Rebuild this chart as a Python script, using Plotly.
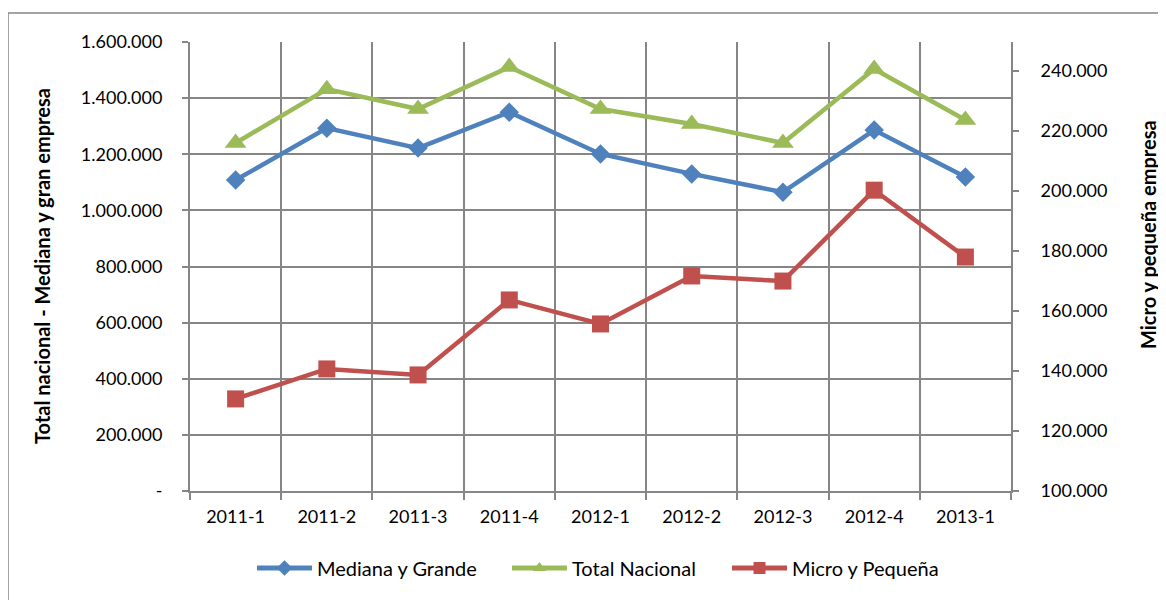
import plotly.graph_objects as go

categories = ["2011-1", "2011-2", "2011-3", "2011-4", "2012-1", "2012-2", "2012-3", "2012-4", "2013-1"]
mediana_grande = [1108000, 1293000, 1222000, 1350000, 1201000, 1130000, 1065000, 1286000, 1119000]
total_nacional = [1240000, 1432000, 1361000, 1511000, 1361000, 1308000, 1240000, 1504000, 1322000]
micro_pequena = [130700, 140700, 138700, 163700, 155700, 171700, 170000, 200300, 178000]

left_tickvals = [0, 200000, 400000, 600000, 800000, 1000000, 1200000, 1400000, 1600000]
left_ticktext = ["-", "200.000", "400.000", "600.000", "800.000", "1.000.000", "1.200.000", "1.400.000", "1.600.000"]
right_tickvals = [100000, 120000, 140000, 160000, 180000, 200000, 220000, 240000]
right_ticktext = ["100.000", "120.000", "140.000", "160.000", "180.000", "200.000", "220.000", "240.000"]

FONT = "Lato"
GRID = "#868686"
BLUE = "#4F81BD"
GREEN = "#9BBB59"
RED = "#C0504D"

# page body has an 8px margin; work in page pixels and offset
OFF = 8
W, H = 1166 - OFF, 600 - OFF
L, R, T, B = 190 - OFF, 1011 - OFF, 42 - OFF, 491 - OFF
pw, ph = R - L, B - T


def px_x(x):
    return (x - OFF - L) / pw


def px_y(y):
    return (B - (y - OFF)) / ph


fig = go.Figure()
fig.add_trace(go.Scatter(x=categories, y=mediana_grande, name="Mediana y Grande", mode="lines+markers",
                         legend="legend",
                         line=dict(color=BLUE, width=4.5), marker=dict(symbol="diamond", size=15, color=BLUE)))
fig.add_trace(go.Scatter(x=categories, y=total_nacional, name="Total Nacional", mode="lines+markers",
                         legend="legend2",
                         line=dict(color=GREEN, width=4.5), marker=dict(symbol="triangle-up", size=19, color=GREEN)))
fig.add_trace(go.Scatter(x=categories, y=micro_pequena, name="Micro y Pequeña", mode="lines+markers", yaxis="y2",
                         legend="legend3",
                         line=dict(color=RED, width=4.5), marker=dict(symbol="square", size=17, color=RED)))

leg_common = dict(orientation="h", xanchor="left", y=px_y(568), yanchor="middle",
                  font=dict(family=FONT, size=20, color="#000000"), itemwidth=55, itemsizing="constant",
                  bgcolor="rgba(0,0,0,0)")

fig.update_layout(
    width=W, height=H,
    margin=dict(l=L, r=W - R, t=T, b=H - B),
    paper_bgcolor="white", plot_bgcolor="white",
    font=dict(family=FONT, size=18, color="#000000"),
    showlegend=True,
    legend=dict(x=px_x(257 - 5), **leg_common),
    legend2=dict(x=px_x(512 - 5), **leg_common),
    legend3=dict(x=px_x(732 - 5), **leg_common),
    xaxis=dict(type="category", range=[-0.5, 8.5], tickson="boundaries", showgrid=True, gridcolor=GRID, gridwidth=2,
               showline=True, linecolor=GRID, linewidth=2, ticks="outside", ticklen=7, tickcolor=GRID, tickwidth=2,
               ticklabelstandoff=8, zeroline=False, mirror=False),
    yaxis=dict(range=[0, 1600000], tickvals=left_tickvals, ticktext=left_ticktext, showgrid=True, gridcolor=GRID,
               gridwidth=2, showline=True, linecolor=GRID, linewidth=2, ticks="outside", ticklen=6, tickcolor=GRID,
               tickwidth=2, ticklabelstandoff=16, zeroline=False),
    yaxis2=dict(range=[100000, 249700], tickvals=right_tickvals, ticktext=right_ticktext, overlaying="y", side="right",
                showgrid=False, showline=True, linecolor=GRID, linewidth=2, ticks="outside", ticklen=6, tickcolor=GRID,
                tickwidth=2, ticklabelstandoff=18, zeroline=False),
)

fig.add_annotation(text="<b>Total nacional - Mediana y gran empresa</b>", textangle=-90, xref="paper", yref="paper",
                   x=px_x(42), y=px_y(266), xanchor="center", yanchor="middle", showarrow=False,
                   font=dict(family=FONT, size=20, color="#000000"))
fig.add_annotation(text="<b>Micro y pequeña empresa</b>", textangle=-90, xref="paper", yref="paper",
                   x=px_x(1148), y=px_y(235), xanchor="center", yanchor="middle", showarrow=False,
                   font=dict(family=FONT, size=20, color="#000000"))

fig.add_shape(type="rect", xref="paper", yref="paper", x0=px_x(8), x1=px_x(1180), y0=px_y(620), y1=px_y(13),
              line=dict(color=GRID, width=1.5), fillcolor="rgba(0,0,0,0)", layer="below")

fig.write_html("out.html")
